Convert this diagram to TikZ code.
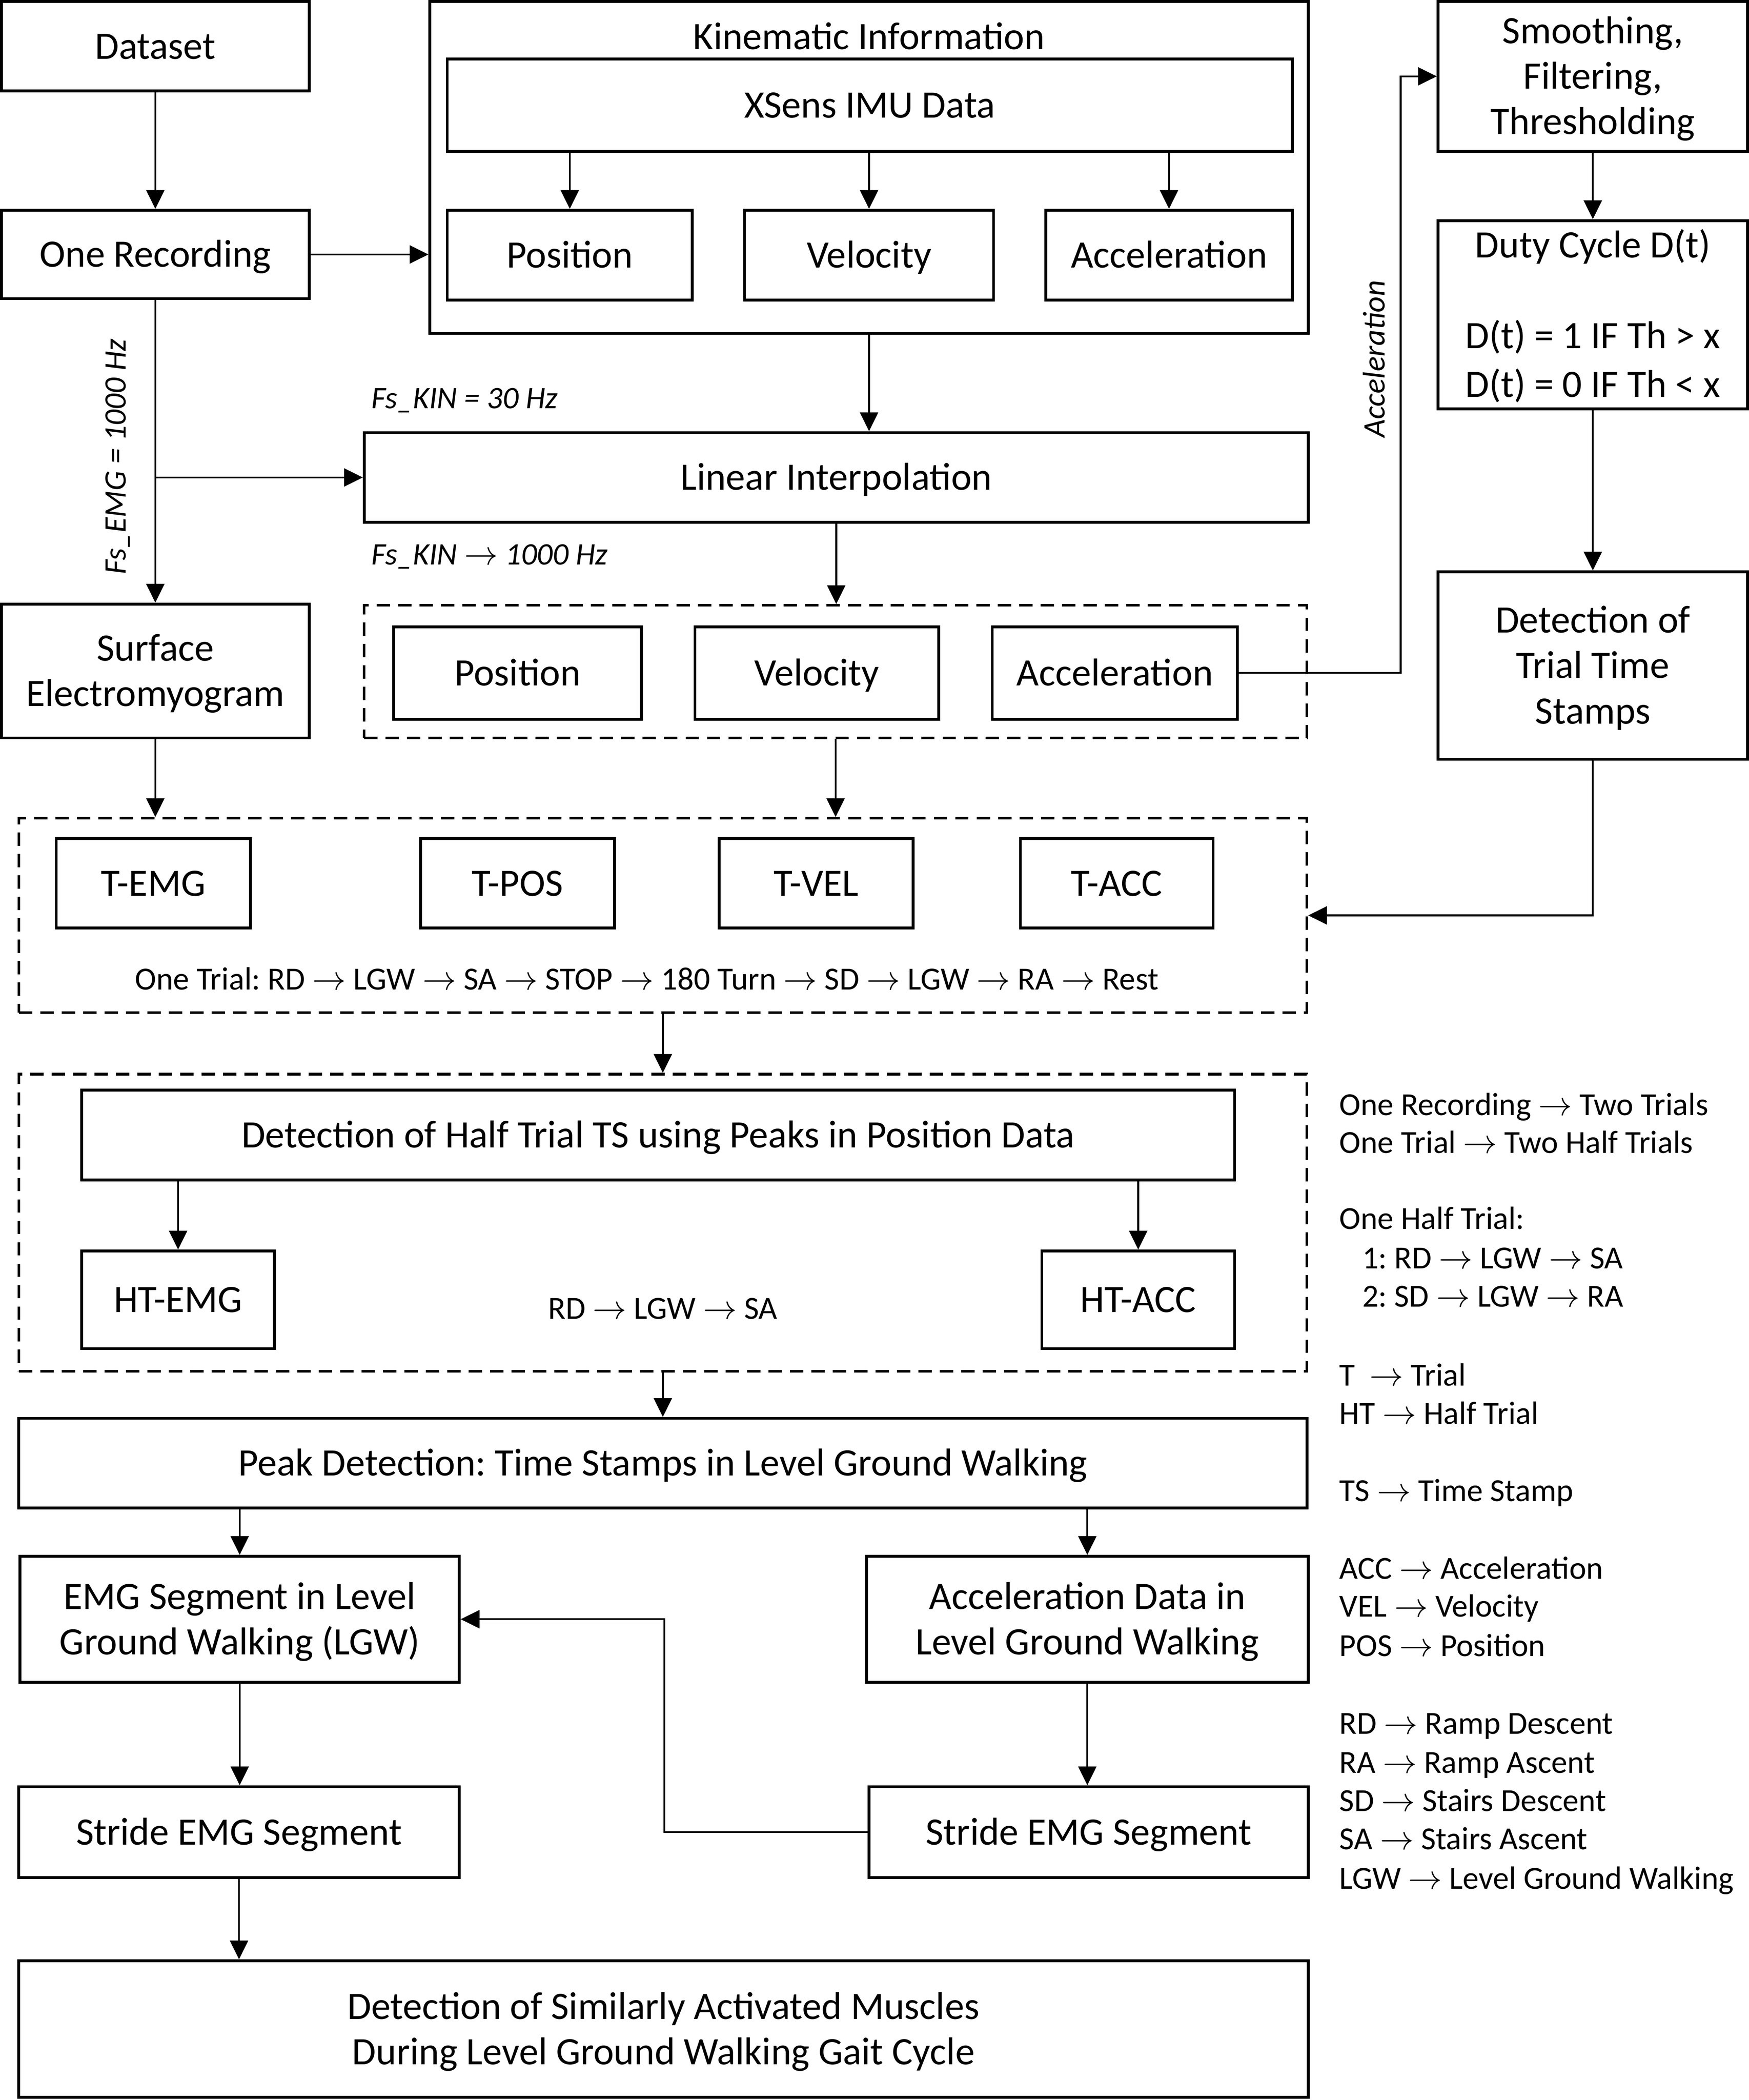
\documentclass[tikz,border=0pt]{standalone}
\usepackage{fontspec}
\setmainfont{Carlito}
\usetikzlibrary{arrows.meta,calc}
\newcommand\mainsize{\fontsize{16.5pt}{19.3pt}\selectfont}
\newcommand\smallit{\fontsize{13.3pt}{16pt}\selectfont\itshape}
\newcommand\smallup{\fontsize{13.7pt}{16pt}\selectfont}
\newcommand\legsize{\fontsize{13.66pt}{16.44pt}\selectfont}
\tikzset{
  box/.style={draw, line width=1.2pt, inner sep=0pt, align=center, font=\mainsize},
  dbox/.style={line width=1.1pt, dash pattern=on 0.2cm off 0.12cm},
  arr/.style={line width=0.75pt, -{Triangle[length=0.28cm,width=0.27cm]}},
  lbl/.style={font=\smallit, inner sep=0pt},
  inlbl/.style={font=\smallup, inner sep=0pt, anchor=base},
  leg/.style={font=\legsize, inner sep=0pt, anchor=base west},
}
\newcommand\mkbox[7][]{\node[box,#1,minimum width={(#5-#3)*0.02cm},minimum height={(#6-#4)*0.02cm}] (#2) at ({(#3+#5)/2},{(#4+#6)/2}) {\rule{0pt}{0.95em}#7\rule[-0.3em]{0pt}{0.3em}};}
\begin{document}
\frenchspacing
\begin{tikzpicture}[x=0.02cm,y=-0.02cm]
\useasboundingbox (0,0) rectangle (1306,1568);
% left column
\mkbox{dataset}{1}{1}{231}{68}{Dataset}
\mkbox{onerec}{1}{157}{231}{223}{One Recording}
\mkbox{emg}{1}{451}{231}{551}{Surface\\Electromyogram}
% kinematic block
\mkbox{kin}{321}{1}{977}{249}{}
\node[font=\mainsize, inner sep=0pt] (kintitle) at (649,27) {Kinematic Information};
\mkbox{xsens}{334}{44}{965}{113}{XSens IMU Data}
\mkbox{pos}{334}{157}{517}{224}{Position}
\mkbox{vel}{556}{157}{742}{224}{Velocity}
\mkbox{acc}{781}{157}{965}{224}{Acceleration}
\mkbox{lin}{272}{323}{977}{390}{Linear Interpolation}
\mkbox[dbox]{kin2}{272}{452}{976}{551}{}
\mkbox{pos2}{294}{468}{479}{537}{Position}
\mkbox{vel2}{519}{468}{701}{537}{Velocity}
\mkbox{acc2}{741}{468}{924}{537}{Acceleration}
% right column
\mkbox{smooth}{1074}{1}{1305}{113}{Smoothing,\\Filtering,\\Thresholding}
\mkbox{duty}{1074}{165}{1305}{305}{Duty Cycle D(t)\\[19.3pt]D(t) = 1 IF Th > x\\[1.5pt]D(t) = 0 IF Th < x}
\mkbox{det}{1074}{427}{1305}{567}{Detection of\\Trial Time\\Stamps}
% trial block
\mkbox[dbox]{trial}{14}{611}{976}{756}{}
\mkbox{temg}{42}{626}{187}{693}{T-EMG}
\mkbox{tpos}{314}{626}{459}{693}{T-POS}
\mkbox{tvel}{537}{626}{682}{693}{T-VEL}
\mkbox{tacc}{762}{626}{906}{693}{T-ACC}
\node[inlbl] (trialtxt) at (483,739) {One Trial: RD $\rightarrow$ LGW $\rightarrow$ SA $\rightarrow$ STOP $\rightarrow$ 180 Turn $\rightarrow$ SD $\rightarrow$ LGW $\rightarrow$ RA $\rightarrow$ Rest};
% half trial block
\mkbox[dbox]{half}{14}{802}{976}{1024}{}
\mkbox{hdet}{61}{814}{922}{881}{Detection of Half Trial TS using Peaks in Position Data}
\mkbox{htemg}{61}{934}{205}{1007}{HT-EMG}
\mkbox{htacc}{778}{934}{922}{1007}{HT-ACC}
\node[inlbl] (halftxt) at (495,985) {RD $\rightarrow$ LGW $\rightarrow$ SA};
% lower part
\mkbox{peak}{14}{1059}{976}{1126}{Peak Detection: Time Stamps in Level Ground Walking}
\mkbox{emgseg}{15}{1162}{343}{1256}{EMG Segment in Level\\Ground Walking (LGW)}
\mkbox{accseg}{647}{1162}{977}{1256}{Acceleration Data in\\Level Ground Walking}
\mkbox{strideL}{14}{1334}{343}{1402}{Stride EMG Segment}
\mkbox{strideR}{649}{1334}{977}{1402}{Stride EMG Segment}
\mkbox{final}{14}{1464}{977}{1566}{Detection of Similarly Activated Muscles\\During Level Ground Walking Gait Cycle}
% labels
\node[lbl, anchor=base west] (fskin1) at (277,305) {Fs\_KIN = 30 Hz};
\node[lbl, anchor=base west] (fskin2) at (277,421.5) {Fs\_KIN $\rightarrow$ 1000 Hz};
\node[lbl, rotate=90] (fsemg) at (88,341) {Fs\_EMG = 1000 Hz};
\node[lbl, rotate=90] (acclbl) at (1026,268) {Acceleration};
% legend
\foreach \yy/\txt [count=\i] in {
  832.6/{One Recording $\rightarrow$ Two Trials},
  861.1/{One Trial $\rightarrow$ Two Half Trials},
  917.6/{One Half Trial:},
  947.3/{\hspace*{0.34cm}1: RD $\rightarrow$ LGW $\rightarrow$ SA},
  975.7/{\hspace*{0.34cm}2: SD $\rightarrow$ LGW $\rightarrow$ RA},
  1034.6/{T\ \ $\rightarrow$ Trial},
  1063.1/{HT $\rightarrow$ Half Trial},
  1120.8/{TS $\rightarrow$ Time Stamp},
  1178.9/{ACC $\rightarrow$ Acceleration},
  1207.3/{VEL $\rightarrow$ Velocity},
  1236.6/{POS $\rightarrow$ Position},
  1294.7/{RD $\rightarrow$ Ramp Descent},
  1324/{RA $\rightarrow$ Ramp Ascent},
  1352.4/{SD $\rightarrow$ Stairs Descent},
  1380.9/{SA $\rightarrow$ Stairs Ascent},
  1410.5/{LGW $\rightarrow$ Level Ground Walking}}
  {\node[leg] (leg\i) at (1000,\yy) {\txt};}
% connectors
\draw[arr] (dataset) -- (onerec);
\draw[arr] (onerec.east) -- (onerec.east -| kin.west);
\draw[arr] (xsens.south -| pos.north) -- (pos.north);
\draw[arr] (xsens.south -| vel.north) -- (vel.north);
\draw[arr] (xsens.south -| acc.north) -- (acc.north);
\draw[arr] (kin.south) -- (kin.south |- lin.north);
\draw[arr] (onerec.south) -- (emg.north);
\draw[arr] (onerec.south |- lin.west) -- (lin.west);
\draw[arr] (lin.south) -- (lin.south |- kin2.north);
\draw[arr] (emg.south) -- (emg.south |- trial.north);
\draw[arr] (kin2.south) -- (kin2.south |- trial.north);
\coordinate (accX) at (1046,0);
\draw[arr] (acc2.east) -| (accX |- smooth.west) -- (smooth.west);
\draw[arr] (smooth) -- (duty);
\draw[arr] (duty) -- (det);
\draw[arr] (det.south) |- (trial.east);
\draw[arr] (trial.south) -- (half.north);
\draw[arr] (hdet.south -| htemg.north) -- (htemg.north);
\draw[arr] (hdet.south -| htacc.north) -- (htacc.north);
\draw[arr] (half.south) -- (peak.north);
\draw[arr] (peak.south -| emgseg.north) -- (emgseg.north);
\draw[arr] (peak.south -| accseg.north) -- (accseg.north);
\draw[arr] (emgseg.south) -- (emgseg.south |- strideL.north);
\draw[arr] (accseg.south) -- (accseg.south |- strideR.north);
\coordinate (retX) at (496,0);
\draw[arr] (strideR.west) -| (retX |- emgseg.east) -- (emgseg.east);
\draw[arr] (strideL.south) -- (strideL.south |- final.north);
\end{tikzpicture}
\end{document}
